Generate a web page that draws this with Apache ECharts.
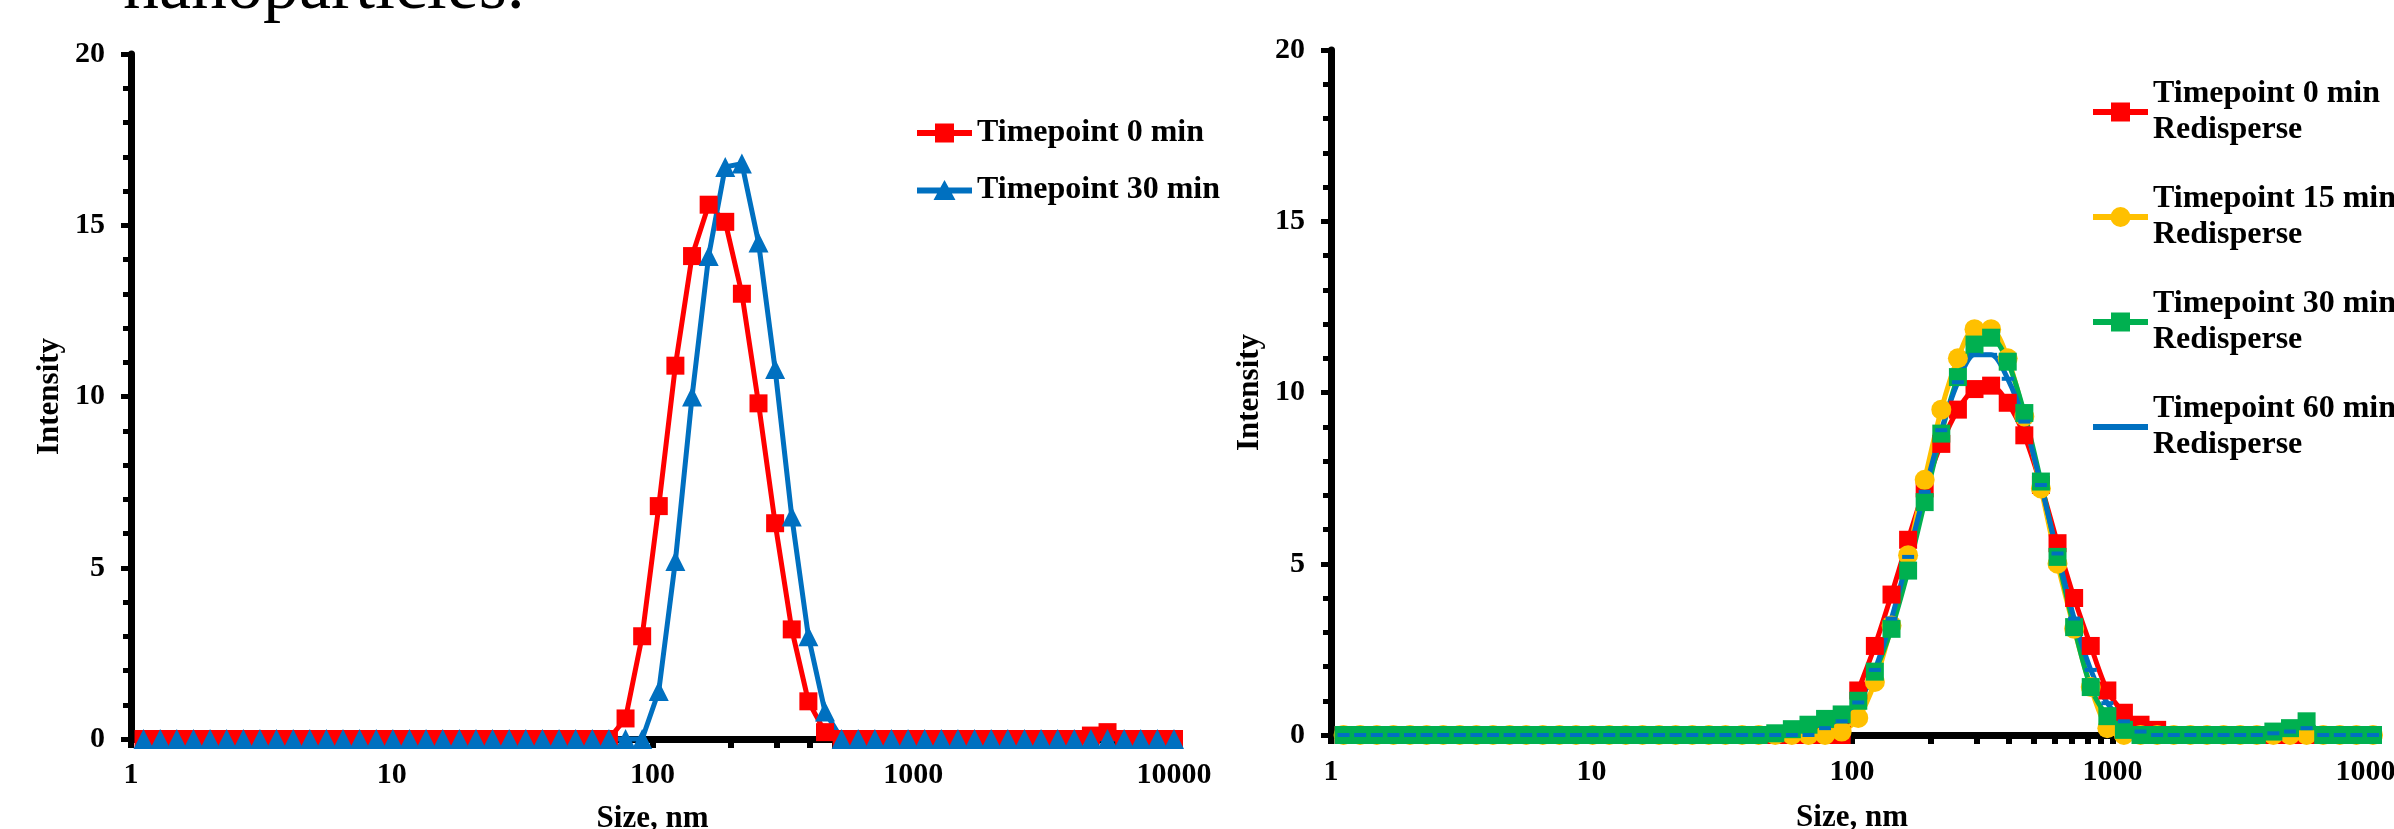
<!DOCTYPE html>
<html><head><meta charset="utf-8">
<script src="https://cdn.jsdelivr.net/npm/echarts@6/dist/echarts.min.js"></script>
<style>html,body{margin:0;padding:0;background:#fff}#c{width:2394px;height:829px}</style>
</head><body><div id="c"></div>
<script>
// Size bins (nm)
const sizes = [1.117,1.294,1.499,1.736,2.010,2.328,2.696,3.122,3.615,4.187,
  4.849,5.615,6.503,7.531,8.721,10.10,11.70,13.54,15.69,18.17,
  21.04,24.36,28.21,32.67,37.84,43.82,50.75,58.77,68.06,78.82,
  91.28,105.7,122.4,141.8,164.2,190.1,220.2,255.0,295.3,342.0,
  396.1,458.7,531.2,615.1,712.4,825.0,955.4,1106,1281,1484,
  1718,1990,2305,2669,3091,3580,4145,4801,5560,6439,
  7456,8635,10000];

const xTickLabels = [1,10,100,1000,10000];
const xTickValues = [1,2,3,4,5,6,7,8,9,10,20,30,40,50,60,70,80,90,100,200,300,400,500,600,700,800,900,1000,2000,3000,4000,5000,6000,7000,8000,9000,10000];

// Left chart
const left0min = [0,0,0,0,0,0,0,0,0,0,
  0,0,0,0,0,0,0,0,0,0,
  0,0,0,0,0,0,0,0,0,0.6,
  3.0,6.8,10.9,14.1,15.6,15.1,13.0,9.8,6.3,3.2,
  1.1,0.2,0,0,0,0,0,0,0,0,
  0,0,0,0,0,0,0,0.1,0.2,0,
  0,0,0];
const left30min = [0,0,0,0,0,0,0,0,0,0,
  0,0,0,0,0,0,0,0,0,0,
  0,0,0,0,0,0,0,0,0,0,
  0,1.4,5.2,10.0,14.1,16.7,16.8,14.5,10.8,6.5,
  3.0,0.8,0,0,0,0,0,0,0,0,
  0,0,0,0,0,0,0,0,0,0,
  0,0,0];

// Right chart (redispersed)
const right0min = [0,0,0,0,0,0,0,0,0,0,
  0,0,0,0,0,0,0,0,0,0,
  0,0,0,0,0,0,0,0,0,0,
  0,1.3,2.6,4.1,5.7,7.2,8.5,9.5,10.1,10.2,
  9.7,8.75,7.3,5.6,4.0,2.6,1.3,0.65,0.3,0.15,
  0,0,0,0,0,0,0,0,0,0,
  0,0,0];
const right15min = [0,0,0,0,0,0,0,0,0,0,
  0,0,0,0,0,0,0,0,0,0,
  0,0,0,0,0,0,0,0,0,0,
  0.1,0.5,1.55,3.2,5.25,7.45,9.5,11.0,11.85,11.85,
  11.0,9.3,7.2,5.0,3.1,1.4,0.2,0,0,0,
  0,0,0,0,0,0,0,0,0,0,
  0,0,0];
const right30min = [0,0,0,0,0,0,0,0,0,0,
  0,0,0,0,0,0,0,0,0,0,
  0,0,0,0,0,0,0.05,0.17,0.3,0.47,
  0.6,1.0,1.85,3.1,4.8,6.8,8.8,10.45,11.4,11.6,
  10.9,9.4,7.4,5.2,3.15,1.4,0.55,0.15,0,0,
  0,0,0,0,0,0,0.1,0.2,0.4,0,
  0,0,0];
const right60min = [0,0,0,0,0,0,0,0,0,0,
  0,0,0,0,0,0,0,0,0,0,
  0,0,0,0,0,0,0,0,0,0.2,
  0.4,0.95,1.9,3.4,5.2,7.1,8.9,10.3,11.1,11.1,
  10.4,9.15,7.3,5.3,3.4,1.9,0.93,0.4,0.1,0,
  0,0,0,0,0,0,0.05,0.1,0.2,0,
  0,0,0];

const leftNames = ['Timepoint 0 min','Timepoint 30 min'];
const rightNames = ['Timepoint 0 min\nRedisperse','Timepoint 15 min\nRedisperse','Timepoint 30 min\nRedisperse','Timepoint 60 min\nRedisperse'];

const FONT = 'Liberation Serif';
const pair = arr => sizes.map((s,i)=>[s, arr[i]]);

// legend icons: line with marker, drawn in a 55x25 box
const ICON_SQUARE = 'path://M0,9.5H55V15.5H0Z M18,3H37V22H18Z';
const ICON_TRI = 'path://M0,9.5H55V15.5H0Z M27.5,2L38.5,22H16.5Z';
const ICON_CIRCLE = 'path://M0,9.5H55V15.5H0Z M37.5,12.5A10,10 0 1 1 17.5,12.5A10,10 0 1 1 37.5,12.5Z';
const ICON_LINE = 'path://M0,9.5H55V15.5H0Z';

function xAxisCfg(gi, margin, nameGap){
  return {
    type:'log', logBase:10, min:1, max:10000, gridIndex:gi,
    axisLine:{show:true, onZero:false, lineStyle:{color:'#000', width:7}},
    axisTick:{show:true, customValues:xTickValues, length:9, lineStyle:{color:'#000', width:6}},
    axisLabel:{show:true, customValues:xTickLabels, color:'#000', fontFamily:FONT, fontWeight:'bold', fontSize:30, margin:margin,
      formatter: v => String(Math.round(v))},
    splitLine:{show:false}, minorTick:{show:false}, minorSplitLine:{show:false},
    name:'Size, nm', nameLocation:'middle', nameGap:nameGap, nameMoveOverlap:false,
    nameTextStyle:{color:'#000', fontFamily:FONT, fontWeight:'bold', fontSize:31}
  };
}
function yAxisCfg(gi){
  return {
    type:'value', min:0, max:20, interval:5, gridIndex:gi,
    axisLine:{show:true, lineStyle:{color:'#000', width:7}},
    axisTick:{show:true, length:10, lineStyle:{color:'#000', width:5}},
    minorTick:{show:true, splitNumber:5, length:8, lineStyle:{color:'#000', width:5}},
    splitLine:{show:false},
    axisLabel:{color:'#000', fontFamily:FONT, fontWeight:'bold', fontSize:30, margin:26},
    name:'Intensity', nameLocation:'middle', nameGap:66, nameRotate:90, nameMoveOverlap:false,
    nameTextStyle:{color:'#000', fontFamily:FONT, fontWeight:'bold', fontSize:31}
  };
}
function lineSeries(name, arr, xi, color, symbol, size, smooth){
  return {
    type:'line', name:name, data:pair(arr), xAxisIndex:xi, yAxisIndex:xi,
    color:color, symbol:symbol, symbolSize:size, showSymbol:true, showAllSymbol:true,
    lineStyle:{color:color, width:5}, itemStyle:{color:color},
    smooth:smooth, clip:false, emphasis:{disabled:true}
  };
}

const chart = echarts.init(document.getElementById('c'), null, {renderer:'canvas'});
chart.setOption({
  animation:false,
  backgroundColor:'#fff',
  graphic:[{type:'text', x:123, y:-11, style:{text:'nanoparticles.', font:'72px "Liberation Serif"', fill:'#000', verticalAlign:'middle', align:'left'}}],
  grid:[
    {left:131, top:54, width:1043, height:685, outerBoundsMode:'none', containLabel:false},
    {left:1331, top:50, width:1042, height:685, outerBoundsMode:'none', containLabel:false}
  ],
  xAxis:[xAxisCfg(0,21,64), xAxisCfg(1,22,67)],
  yAxis:[yAxisCfg(0), yAxisCfg(1)],
  legend:[
    {data:[{name:leftNames[0], icon:ICON_SQUARE},{name:leftNames[1], icon:ICON_TRI}],
      orient:'vertical', left:917, top:115, padding:0, itemGap:21, itemWidth:55, itemHeight:25,
      textStyle:{color:'#000', fontFamily:FONT, fontWeight:'bold', fontSize:32, lineHeight:36}, selectedMode:false},
    {data:[{name:rightNames[0], icon:ICON_SQUARE},{name:rightNames[1], icon:ICON_CIRCLE},
           {name:rightNames[2], icon:ICON_SQUARE},{name:rightNames[3], icon:ICON_LINE}],
      orient:'vertical', left:2093, top:58, padding:0, itemGap:-3, itemWidth:55, itemHeight:25,
      textStyle:{color:'#000', fontFamily:FONT, fontWeight:'bold', fontSize:32, lineHeight:36, padding:[36,0,0,0]}, selectedMode:false}
  ],
  series:[
    lineSeries(leftNames[0], left0min, 0, '#FF0000', 'rect', 18, false),
    lineSeries(leftNames[1], left30min, 0, '#0070C0', 'triangle', 20, false),
    lineSeries(rightNames[0], right0min, 1, '#FF0000', 'rect', 18, 0.3),
    lineSeries(rightNames[1], right15min, 1, '#FFC000', 'circle', 20, 0.3),
    lineSeries(rightNames[2], right30min, 1, '#00B050', 'rect', 18, 0.3),
    lineSeries(rightNames[3], right60min, 1, '#0070C0', 'rect', [12,4], 0.3)
  ]
});
</script></body></html>
